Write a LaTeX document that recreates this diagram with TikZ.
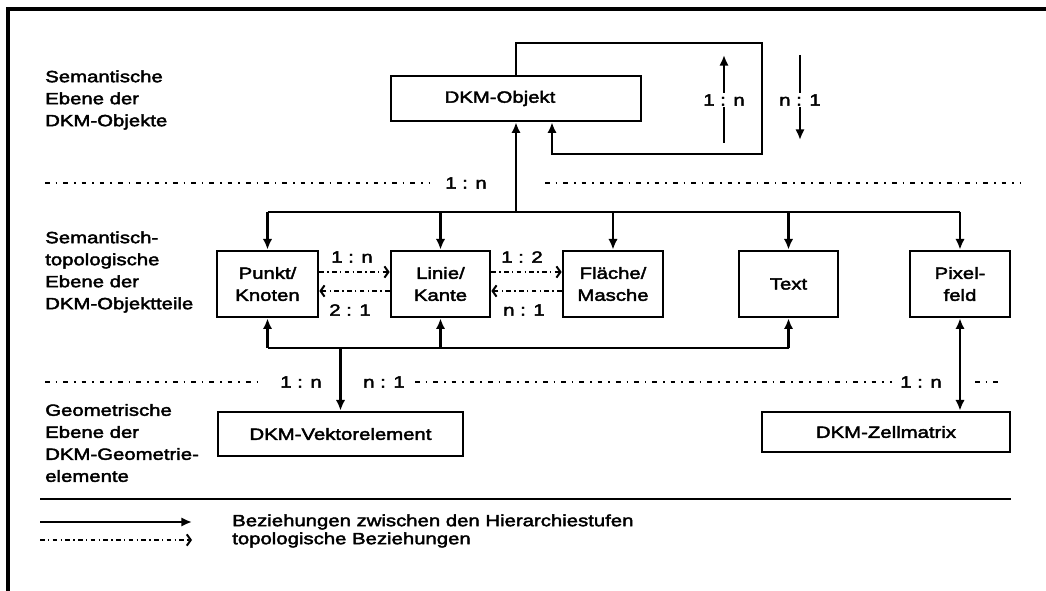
\documentclass[tikz,border=0pt]{standalone}
\usepackage{fontspec}
\setmainfont{Liberation Sans}[FakeStretch=1.25,FakeBold=2.5]
\usetikzlibrary{arrows.meta}
\newlength\pxu
\setlength\pxu{0.75pt}
\begin{document}
\begin{tikzpicture}[x=0.75pt,y=-0.75pt,
  font=\fontsize{12.2pt}{16.5pt}\selectfont,
  box/.style={draw, line width=2pt, align=center, inner sep=0pt},
  rel/.style={line width=1.9pt, line join=miter, -{Latex[length=8pt,width=7pt]}},
  topo/.style={line width=1pt, dash pattern=on 3.5pt off 2.5pt on 1pt off 2.5pt, -{Straight Barb[length=3pt,width=8.5pt,line width=1.5pt]}},
  level/.style={line width=0.9pt, dash pattern=on 3.5pt off 4.5pt on 1.2pt off 4.5pt},
  lab/.style={inner sep=1pt},
  llab/.style={anchor=west, align=left, inner sep=0pt}
]
\useasboundingbox (0,0) rectangle (1046,591);
% frame
\coordinate (fBL) at (8,591);
\coordinate (fTL) at (8,9);
\coordinate (fTR) at (1046,9);
\draw[line width=2.4pt] (fBL) -- (fTL) -- (fTR);

% level labels
\node[llab] (lv1) at (45,100) {Semantische\\Ebene der\\DKM-Objekte};
\node[llab] (lv2) at (45,272) {Semantisch-\\topologische\\Ebene der\\DKM-Objektteile};
\node[llab] (lv3) at (45,443) {Geometrische\\Ebene der\\DKM-Geometrie-\\elemente};

% boxes
\node[box, minimum width=250\pxu, minimum height=45\pxu] (obj) at (516,98.5) {};
\node[lab] (objlab) at (500,98.5) {DKM-Objekt};
\node[box, minimum width=101\pxu, minimum height=66\pxu] (punkt) at (267.5,284) {Punkt/\\Knoten};
\node[box, minimum width=99\pxu, minimum height=66\pxu] (linie) at (440.5,284) {Linie/\\Kante};
\node[box, minimum width=100\pxu, minimum height=66\pxu] (flaeche) at (613,284) {Fläche/\\Masche};
\node[box, minimum width=99\pxu, minimum height=66\pxu] (text) at (788.5,284) {Text};
\node[box, minimum width=100\pxu, minimum height=66\pxu] (pixel) at (960,284) {Pixel-\\feld};
\node[box, minimum width=245\pxu, minimum height=44\pxu] (vektor) at (340.5,434) {DKM-Vektorelement};
\node[box, minimum width=248\pxu, minimum height=40\pxu] (zell) at (886,432) {DKM-Zellmatrix};

% dashed level separators
\coordinate (d1a) at (45,183);  \coordinate (d1b) at (430,183);
\coordinate (d1c) at (545,183); \coordinate (d1d) at (1020,183);
\draw[level] (d1a) -- (d1b);
\draw[level] (d1c) -- (d1d);
\node[lab] (d1lab) at (466,183) {1 : n};

\coordinate (d2a) at (45,382);  \coordinate (d2b) at (262,382);
\coordinate (d2c) at (415,382); \coordinate (d2d) at (892,382);
\coordinate (d2e) at (975,382); \coordinate (d2f) at (1000,382);
\draw[level] (d2a) -- (d2b);
\draw[level] (d2c) -- (d2d);
\draw[level] (d2e) -- (d2f);
\node[lab] (d2l1) at (301,382) {1 : n};
\node[lab] (d2l2) at (384,382) {n : 1};
\node[lab] (d2l3) at (921,382) {1 : n};

% self loop of DKM-Objekt
\coordinate (lp1) at (516,43);
\coordinate (lp2) at (762,43);
\coordinate (lp3) at (762,154);
\coordinate (lp4) at (552,154);
\draw[rel] (obj.north) -- (lp1) -- (lp2) -- (lp3) -- (lp4) -- (obj.south -| lp4);

% cardinality arrows at the loop
\coordinate (ua1) at (724,143); \coordinate (ua2) at (724,55);
\coordinate (da1) at (800,55);  \coordinate (da2) at (800,140);
\draw[rel] (ua1) -- (ua2);
\draw[rel] (da1) -- (da2);
\node[lab, fill=white] (ulab) at (724,100) {1 : n};
\node[lab, fill=white] (dlab) at (800,100) {n : 1};

% upper bus
\coordinate (busL) at (267.5,212);
\coordinate (busR) at (960,212);
\draw[line width=1.9pt] (busL) -- (busR);
\draw[rel] (obj.south |- busL) -- (obj.south);
\draw[rel] (busL) -- (punkt.north);
\draw[rel] (linie.north |- busL) -- (linie.north);
\draw[rel] (flaeche.north |- busL) -- (flaeche.north);
\draw[rel] (text.north |- busL) -- (text.north);
\draw[rel] (busR) -- (pixel.north);

% lower bus
\coordinate (lbL) at (267.5,348);
\coordinate (lbR) at (788.5,348);
\coordinate (lbV) at (340.5,348);
\draw[line width=1.9pt] (lbL) -- (lbR);
\draw[rel] (lbL) -- (punkt.south);
\draw[rel] (linie.south |- lbL) -- (linie.south);
\draw[rel] (lbR) -- (text.south);
\draw[rel] (lbV) -- (vektor.north);

% pixel field <-> cell matrix
\draw[rel, {Latex[length=8pt,width=7pt]}-{Latex[length=8pt,width=7pt]}] (pixel.south) -- (zell.north -| pixel.south);

% topological relations
\draw[topo] (punkt.east |- 0,272) -- (linie.west |- 0,272);
\draw[topo] (linie.west |- 0,291) -- (punkt.east |- 0,291);
\draw[topo] (linie.east |- 0,272) -- (flaeche.west |- 0,272);
\draw[topo] (flaeche.west |- 0,291) -- (linie.east |- 0,291);
\node[lab] (t1) at (352,257) {1 : n};
\node[lab] (t2) at (350,310) {2 : 1};
\node[lab] (t3) at (522,257) {1 : 2};
\node[lab] (t4) at (524,310) {n : 1};

% legend
\coordinate (sepL) at (40,499);
\coordinate (sepR) at (1011,499);
\draw[line width=2.2pt] (sepL) -- (sepR);
\coordinate (lg1a) at (40,522); \coordinate (lg1b) at (192,522);
\coordinate (lg2a) at (40,540); \coordinate (lg2b) at (192,540);
\draw[rel] (lg1a) -- (lg1b);
\draw[topo] (lg2a) -- (lg2b);
\node[anchor=west, inner sep=0pt] (lgt1) at (232,522) {Beziehungen zwischen den Hierarchiestufen};
\node[anchor=west, inner sep=0pt] (lgt2) at (232,540) {topologische Beziehungen};
\end{tikzpicture}
\end{document}
